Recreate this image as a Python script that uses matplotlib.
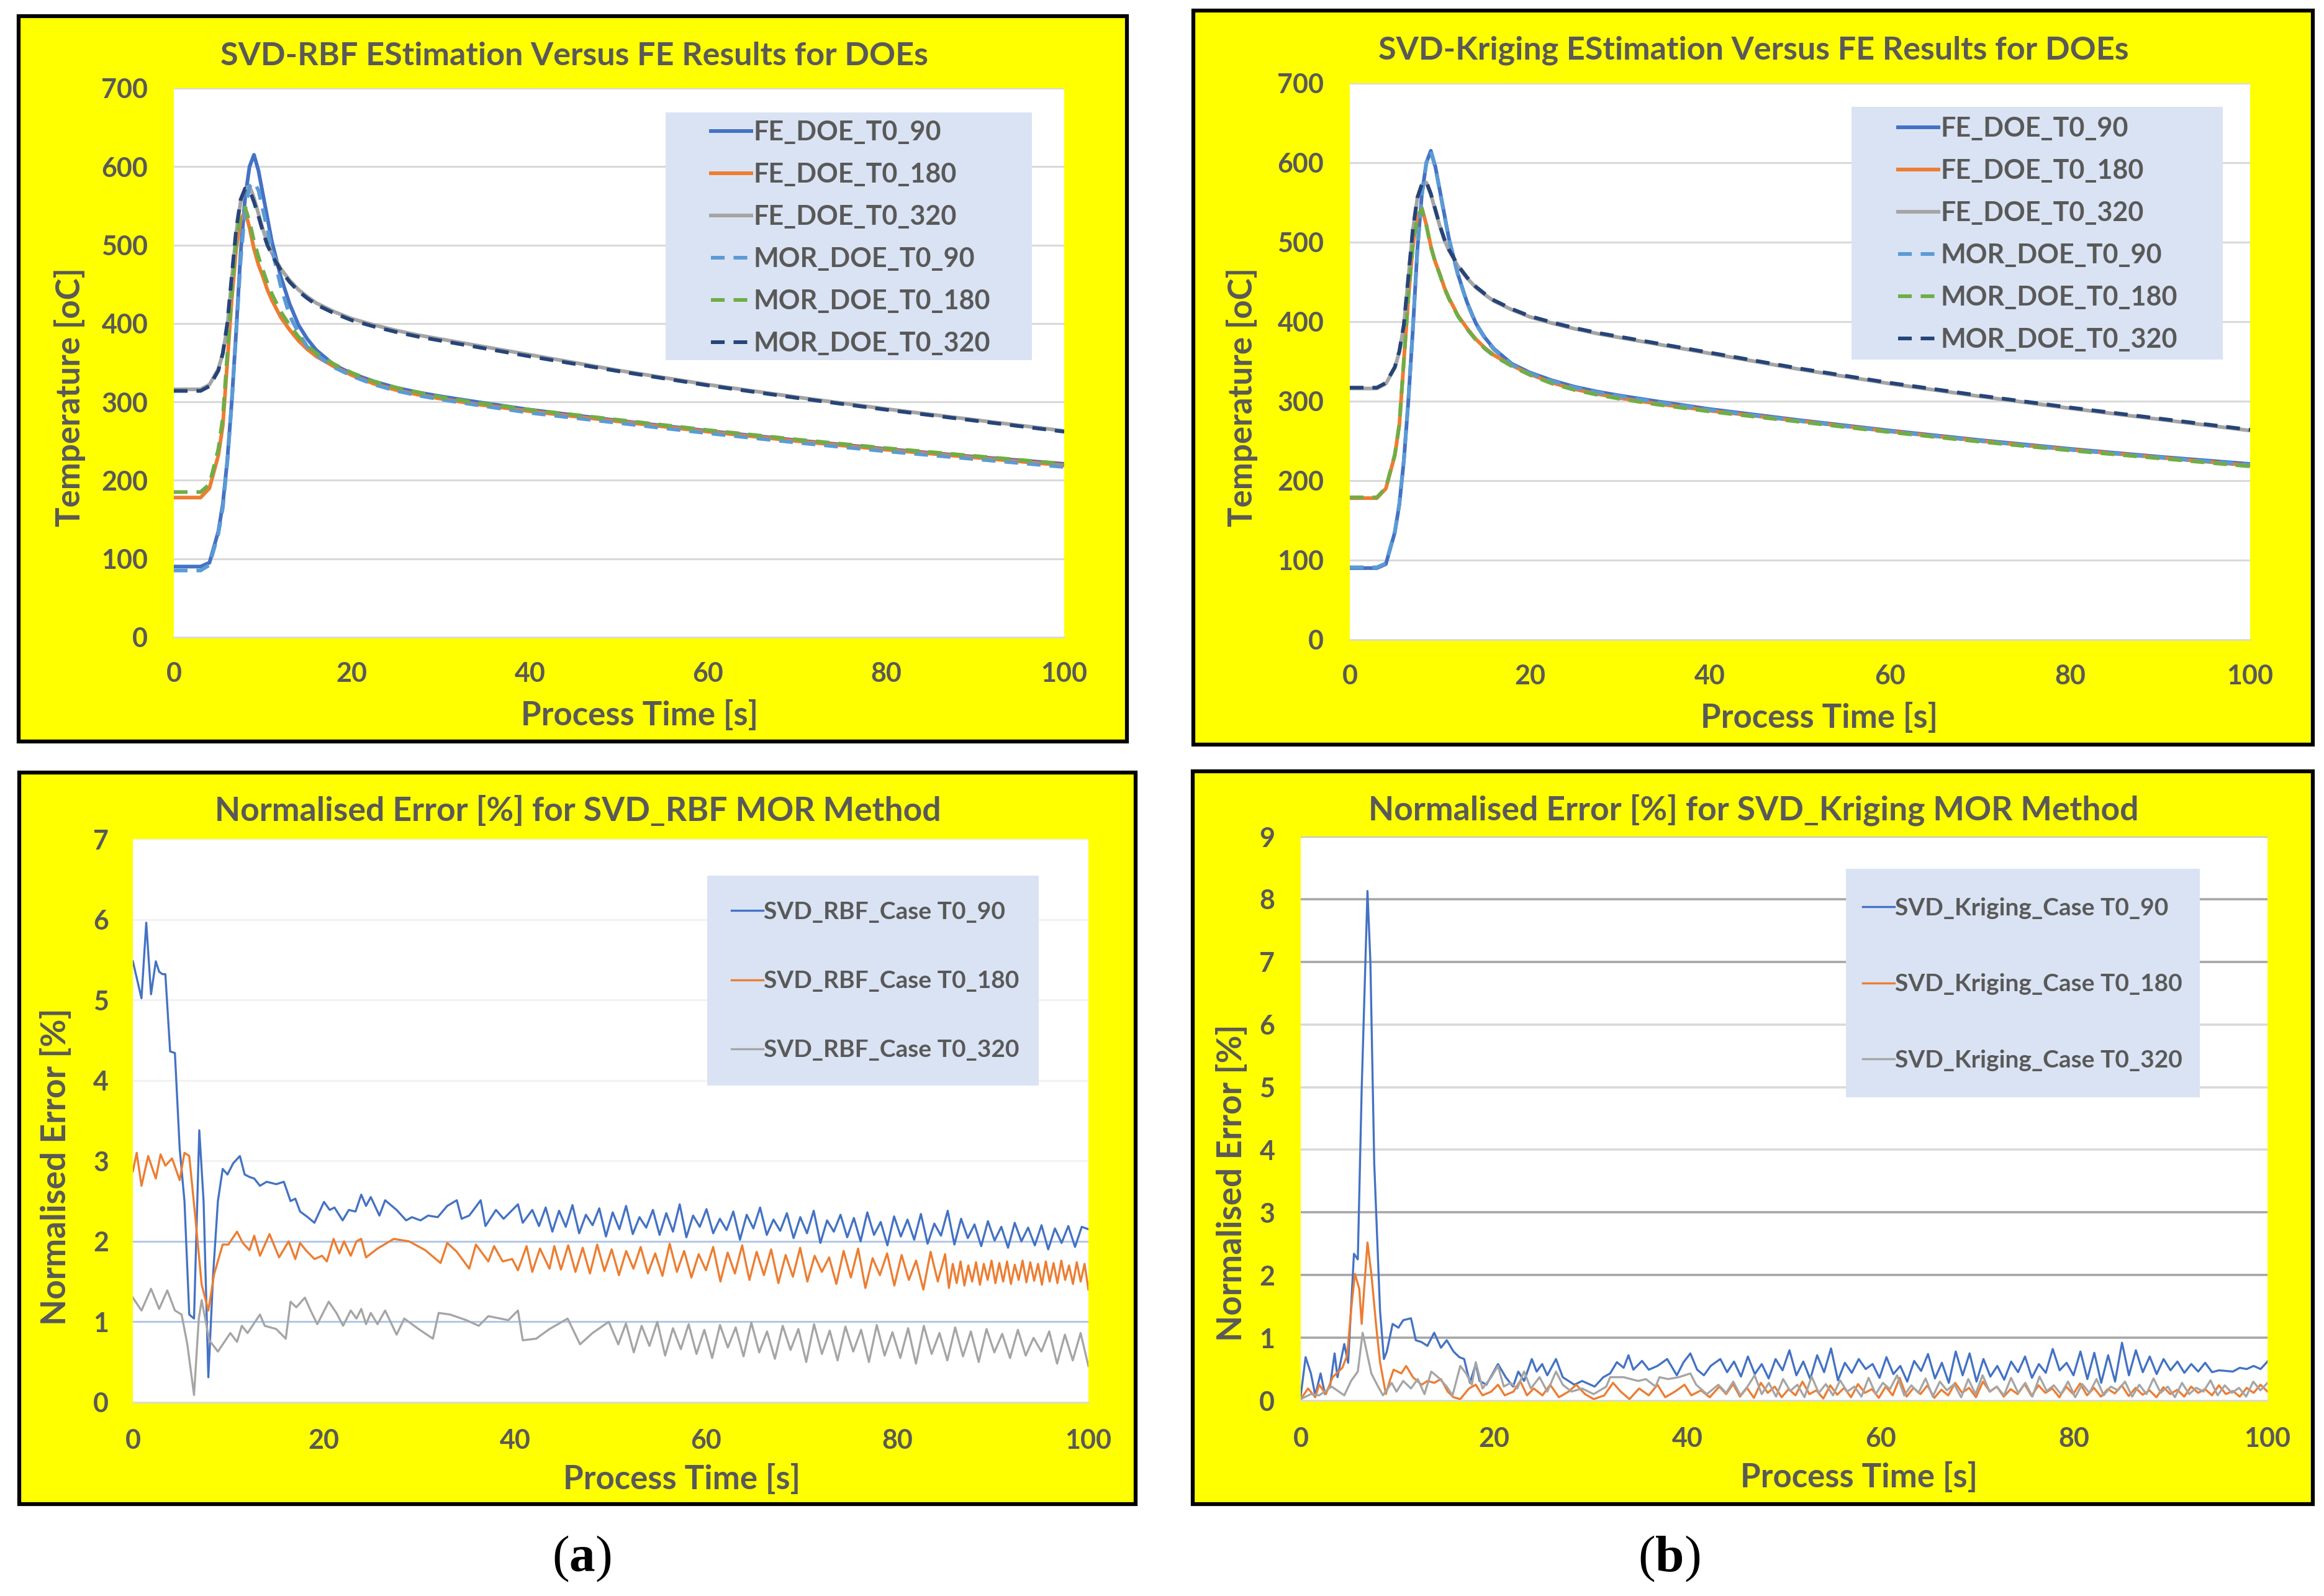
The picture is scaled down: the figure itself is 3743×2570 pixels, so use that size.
import numpy as np
import matplotlib
matplotlib.use("Agg")
import matplotlib.pyplot as plt
from matplotlib.patches import Rectangle

# ---------------- DATA ----------------
time_T = [0, 1, 2, 3, 4, 5, 5.5, 6, 6.5, 7, 7.5, 8, 8.5, 9, 9.5, 10, 10.5, 11, 12, 13, 14, 15, 16, 18,
          20, 22.5, 25, 27.5, 30, 34, 40, 50, 60, 70, 80, 90, 100]

fe_t0_90 = [90, 90, 90, 90, 95, 135, 170, 225, 300, 390, 490, 560, 600, 615, 595, 565, 535, 505, 460, 425,
            398, 380, 366, 347, 336, 326, 318, 312, 307, 300, 290, 276, 263, 251, 240, 230, 221]
fe_t0_180 = [178, 178, 178, 178, 190, 232, 270, 350, 430, 495, 532, 543, 522, 495, 475, 460, 443, 430, 408,
             392, 378, 367, 358, 345, 334, 323, 315, 309, 304, 297, 288, 275, 262, 250, 239, 229, 219]
fe_t0_320 = [316, 316, 316, 316, 322, 342, 362, 395, 455, 515, 555, 572, 575, 560, 540, 520, 503, 490, 470,
             455, 443, 434, 426, 415, 406, 398, 391, 385, 380, 372, 360, 340, 322, 306, 291, 277, 263]

rbf_mor_t0_90 = [85, 85, 85, 85, 92, 132, 165, 222, 298, 388, 480, 545, 575, 580, 570, 545, 520, 495, 448,
                 410, 388, 370, 360, 344, 333, 322, 314, 308, 303, 296, 286, 273, 260, 248, 237, 227, 217]
rbf_mor_t0_180 = [185, 185, 185, 185, 195, 240, 280, 360, 440, 505, 540, 548, 530, 505, 485, 468, 452, 438,
                  415, 398, 383, 371, 362, 348, 337, 326, 318, 312, 306, 299, 290, 277, 264, 252, 241, 231, 221]
rbf_mor_t0_320 = [314, 314, 314, 314, 320, 340, 362, 400, 460, 520, 558, 572, 570, 555, 537, 517, 500, 488,
                  468, 453, 441, 432, 424, 413, 404, 396, 389, 383, 378, 370, 358, 339, 321, 305, 290, 276, 262]

krg_mor_t0_90 = [91, 91, 91, 91, 96, 136, 171, 226, 301, 391, 490, 559, 600, 614, 594, 564, 534, 504, 459,
                 424, 397, 379, 365, 346, 335, 325, 317, 311, 306, 299, 289, 275, 262, 250, 239, 229, 220]
krg_mor_t0_180 = [179, 179, 179, 179, 191, 233, 271, 351, 431, 496, 533, 542, 521, 494, 474, 459, 442, 429,
                  407, 391, 377, 366, 357, 344, 333, 322, 314, 308, 303, 296, 287, 274, 261, 249, 238, 228, 218]
krg_mor_t0_320 = [317, 317, 317, 317, 323, 343, 363, 396, 456, 516, 556, 573, 576, 561, 541, 521, 504, 491,
                  471, 456, 444, 435, 427, 416, 407, 399, 392, 386, 381, 373, 361, 341, 323, 307, 292, 278, 264]

rbf_err_90_knots = [(0, 5.48), (0.9, 5.02), (1.4, 5.96), (1.9, 5.07), (2.4, 5.48), (2.75, 5.35), (3.1, 5.32),
                    (3.4, 5.32), (3.9, 4.36), (4.4, 4.34), (4.9, 3.15), (5.4, 2.5), (5.9, 1.09), (6.4, 1.04),
                    (6.95, 3.38), (7.4, 2.5), (7.9, 0.31), (8.4, 1.59), (8.9, 2.5), (9.4, 2.9), (9.9, 2.83),
                    (10.5, 2.97), (11.2, 3.06), (11.7, 2.83), (12.2, 2.8), (12.7, 2.78), (13.3, 2.69), (14, 2.74),
                    (15, 2.71), (15.8, 2.74), (16.5, 2.5), (17, 2.53), (17.5, 2.37), (18.3, 2.3), (19, 2.23),
                    (20, 2.49), (20.6, 2.39), (21.1, 2.42), (21.95, 2.26), (22.6, 2.39), (23.3, 2.37), (23.9, 2.58),
                    (24.4, 2.44), (24.9, 2.55), (25.8, 2.32), (26.4, 2.51), (27.6, 2.39), (28.6, 2.26), (29.2, 2.3),
                    (30.1, 2.26), (30.9, 2.32), (31.9, 2.3), (32.9, 2.44), (33.9, 2.51), (34.4, 2.28), (35.2, 2.32),
                    (36.4, 2.51), (36.9, 2.19), (38, 2.39), (38.8, 2.28), (40.3, 2.46), (40.8, 2.23), (41.8, 2.39),
                    (42.5, 2.19)]
rbf_err_90_late = [2.42, 2.12, 2.38, 2.18, 2.45, 2.10, 2.33, 2.20, 2.41, 2.06, 2.36, 2.15, 2.44, 2.09, 2.30, 2.17,
                   2.39, 2.08, 2.35, 2.12, 2.46, 2.05, 2.32, 2.18, 2.40, 2.10, 2.28, 2.14, 2.37, 2.02, 2.33, 2.16,
                   2.42, 2.08, 2.27, 2.13, 2.35, 2.04, 2.30, 2.10, 2.38, 1.98, 2.26, 2.12, 2.33, 2.05, 2.29, 2.00,
                   2.36, 2.08, 2.24, 1.95, 2.31, 2.06, 2.27, 2.02, 2.34, 1.97, 2.22, 2.07, 2.38, 1.96, 2.28, 2.04,
                   2.21, 1.94, 2.25, 2.01, 2.18, 1.92, 2.23, 2.00, 2.17, 1.95, 2.20, 1.90, 2.16, 1.98, 2.19, 1.93,
                   2.18, 2.15]

rbf_err_180_knots = [(0, 2.87), (0.4, 3.1), (0.9, 2.69), (1.6, 3.06), (2.4, 2.78), (2.9, 3.08), (3.4, 2.94),
                     (4.1, 3.03), (4.9, 2.76), (5.4, 3.1), (5.9, 3.06), (6.55, 2.28), (7.2, 1.46), (7.9, 1.14),
                     (8.5, 1.59), (9.4, 1.96), (10, 1.96), (10.9, 2.12), (11.5, 1.98), (12.2, 1.89), (12.7, 2.07),
                     (13.3, 1.82), (14.3, 2.09), (15.3, 1.8), (16.3, 2.0), (17, 1.78), (17.5, 1.98), (18.1, 1.89),
                     (19, 1.78), (19.8, 1.82), (20.3, 1.75), (21, 2.03), (21.6, 1.85), (22.1, 2.0), (22.8, 1.82),
                     (23.4, 2.0), (23.9, 2.03), (24.4, 1.8), (25.6, 1.91), (27.3, 2.03), (28.9, 2.0), (30.6, 1.89),
                     (32.2, 1.73), (32.9, 1.98), (33.9, 1.87), (35.2, 1.66), (35.9, 1.96), (37.2, 1.75), (37.8, 1.94),
                     (38.7, 1.75), (39.7, 1.78), (40.3, 1.64), (41.2, 1.94), (41.8, 1.62), (42.6, 1.91), (43.6, 1.66),
                     (44.1, 1.94)]
rbf_err_180_mid = [1.65, 1.95, 1.62, 1.92, 1.60, 1.96, 1.63, 1.90, 1.58, 1.88, 1.66, 1.93, 1.60, 1.85, 1.57, 1.97,
                   1.62, 1.88, 1.55, 1.84, 1.64, 1.93, 1.50, 1.86, 1.60, 1.95, 1.52, 1.87, 1.58, 1.90, 1.48, 1.83,
                   1.56, 1.92, 1.50, 1.82, 1.62, 1.80, 1.47, 1.88, 1.55, 1.91, 1.42, 1.79, 1.58, 1.85, 1.45, 1.83,
                   1.52, 1.76, 1.40, 1.87, 1.50, 1.84]
rbf_err_180_late = [1.42, 1.72, 1.48, 1.75, 1.45, 1.70, 1.50, 1.74, 1.46, 1.72, 1.52, 1.76, 1.48, 1.73, 1.50, 1.75,
                    1.47, 1.71, 1.52, 1.76, 1.49, 1.74, 1.51, 1.72, 1.46, 1.75, 1.50, 1.73, 1.48, 1.76, 1.52, 1.70,
                    1.47, 1.74, 1.50, 1.72, 1.40]

rbf_err_320_knots = [(0, 1.3), (0.9, 1.14), (1.9, 1.41), (2.75, 1.16), (3.6, 1.39), (4.4, 1.14), (5.1, 1.09),
                     (5.7, 0.72), (6.4, 0.09), (6.9, 1.04), (7.2, 1.27), (8.0, 0.77), (8.9, 0.63), (10.2, 0.86),
                     (10.9, 0.75), (11.4, 0.95), (12, 0.86), (13.3, 1.09), (13.8, 0.95), (15, 0.91), (16, 0.79),
                     (16.5, 1.25), (17.1, 1.18), (18, 1.3), (18.6, 1.14), (19.3, 0.97), (20.5, 1.25), (21.3, 1.11),
                     (22, 0.95), (22.8, 1.14), (23.4, 1.04), (23.9, 1.16), (24.4, 0.97), (24.9, 1.11), (25.6, 0.97),
                     (26.4, 1.14), (27.6, 0.84), (28.4, 1.04), (29.9, 0.91), (31.4, 0.79), (32, 1.11), (33.2, 1.09),
                     (34.9, 1.02), (36.2, 0.95), (37.2, 1.07), (39.3, 1.02), (40.3, 1.14), (40.8, 0.77), (42.2, 0.79),
                     (43.6, 0.91), (45.5, 1.04), (46.8, 0.72), (48.1, 0.86), (49.8, 1.0), (50.8, 0.72)]
rbf_err_320_late = [0.98, 0.62, 0.95, 0.70, 1.00, 0.58, 0.92, 0.66, 0.97, 0.60, 0.90, 0.55, 0.96, 0.68, 0.93, 0.57,
                    0.99, 0.62, 0.88, 0.54, 0.95, 0.65, 0.91, 0.50, 0.97, 0.60, 0.89, 0.52, 0.94, 0.63, 0.90, 0.50,
                    0.96, 0.58, 0.87, 0.55, 0.92, 0.48, 0.95, 0.60, 0.86, 0.52, 0.93, 0.57, 0.88, 0.50, 0.91, 0.62,
                    0.85, 0.55, 0.90, 0.58, 0.80, 0.63, 0.88, 0.48, 0.84, 0.52, 0.86, 0.45]

# Normalised error, SVD_Kriging
krg_err_90_knots = [(0, 0.08), (0.5, 0.69), (1.05, 0.43), (1.5, 0.08), (2.05, 0.43), (2.5, 0.1), (3.05, 0.25),
                    (3.5, 0.75), (3.8, 0.37), (4.5, 0.9), (4.9, 0.6), (5.5, 2.34), (5.9, 2.25), (6.3, 4.96),
                    (6.9, 8.13), (7.2, 7.01), (7.6, 3.78), (8.2, 1.43), (8.6, 0.66), (8.9, 0.78), (9.5, 1.22),
                    (10.1, 1.16), (10.6, 1.28), (11.4, 1.31), (11.9, 0.96), (12.5, 0.93), (13.1, 0.87), (13.8, 1.08),
                    (14.5, 0.84), (15.1, 0.96), (15.8, 0.78), (16.4, 0.69), (16.9, 0.66), (17.5, 0.28), (18.1, 0.58),
                    (18.5, 0.31), (19.2, 0.25), (20.4, 0.58), (21.2, 0.37), (21.96, 0.22), (22.5, 0.46), (23.1, 0.31),
                    (23.9, 0.66), (24.4, 0.46), (24.97, 0.58), (25.5, 0.4), (26.4, 0.66), (27.1, 0.37), (28.3, 0.25),
                    (29.1, 0.31), (30.4, 0.22), (31.3, 0.37), (32, 0.43), (32.7, 0.61), (33.4, 0.52), (33.9, 0.72),
                    (34.4, 0.49), (35.3, 0.63), (36, 0.49), (36.9, 0.55), (37.9, 0.66), (38.9, 0.4), (39.6, 0.61),
                    (40.3, 0.75), (41, 0.49), (41.7, 0.4), (42.4, 0.55), (43.4, 0.66)]
krg_err_90_late = [0.45, 0.62, 0.38, 0.70, 0.42, 0.58, 0.35, 0.66, 0.48, 0.80, 0.40, 0.62, 0.34, 0.72, 0.45, 0.83,
                   0.32, 0.60, 0.44, 0.66, 0.50, 0.58, 0.36, 0.69, 0.42, 0.55, 0.30, 0.63, 0.47, 0.74, 0.35, 0.60,
                   0.28, 0.78, 0.40, 0.75, 0.30, 0.66, 0.38, 0.55, 0.33, 0.62, 0.45, 0.70, 0.36, 0.58, 0.44, 0.82,
                   0.48, 0.60, 0.40, 0.78, 0.34, 0.76, 0.28, 0.72, 0.30, 0.92, 0.40, 0.80, 0.45, 0.70, 0.42, 0.66,
                   0.48, 0.62, 0.44, 0.58, 0.46, 0.60, 0.45, 0.48, 0.47, 0.46, 0.52, 0.50, 0.55, 0.50, 0.62]

krg_err_180_knots = [(0, 0.02), (0.75, 0.19), (1.5, 0.05), (1.9, 0.25), (2.6, 0.1), (3.3, 0.37), (3.9, 0.46),
                     (4.3, 0.52), (4.8, 0.72), (5.2, 1.43), (5.6, 2.02), (6.05, 1.78), (6.3, 1.22), (6.9, 2.52),
                     (7.3, 2.02), (7.8, 1.19), (8.2, 0.61), (8.8, 0.1), (9.2, 0.31), (9.6, 0.49), (10.4, 0.43),
                     (10.9, 0.55), (11.6, 0.37), (12.5, 0.25), (13.1, 0.31), (13.8, 0.28), (14.5, 0.34), (15.2, 0.14),
                     (15.8, 0.05), (16.5, 0.02), (17.4, 0.19), (18.1, 0.25), (18.8, 0.08), (19.7, 0.14), (20.4, 0.25),
                     (21.1, 0.08), (22, 0.14), (22.7, 0.31), (23.4, 0.08), (24.1, 0.19), (25, 0.08), (25.8, 0.25),
                     (26.7, 0.05), (27.7, 0.14), (28.5, 0.25), (29.4, 0.1), (30.3, 0.02), (31.4, 0.08), (32.3, 0.28),
                     (33.1, 0.14), (34, 0.02), (35, 0.19), (36, 0.08), (36.9, 0.25), (37.7, 0.05), (38.7, 0.14),
                     (39.7, 0.25), (40.4, 0.08), (41.4, 0.16), (42.3, 0.05), (43.3, 0.22)]
krg_err_180_late = [0.10, 0.26, 0.06, 0.20, 0.04, 0.28, 0.12, 0.22, 0.05, 0.18, 0.08, 0.30, 0.10, 0.16, 0.03, 0.24,
                    0.09, 0.20, 0.05, 0.26, 0.12, 0.18, 0.04, 0.22, 0.08, 0.36, 0.06, 0.20, 0.10, 0.24, 0.04, 0.17,
                    0.08, 0.28, 0.12, 0.20, 0.05, 0.30, 0.14, 0.22, 0.06, 0.18, 0.10, 0.26, 0.07, 0.24, 0.12, 0.19,
                    0.05, 0.22, 0.10, 0.27, 0.08, 0.20, 0.06, 0.18, 0.11, 0.24, 0.07, 0.20, 0.09, 0.16, 0.05, 0.21,
                    0.10, 0.17, 0.06, 0.22, 0.12, 0.18, 0.08, 0.24, 0.10, 0.15, 0.06, 0.20, 0.12, 0.25, 0.14]

krg_err_320_knots = [(0, 0.02), (1.05, 0.1), (1.9, 0.08), (3.2, 0.22), (4.5, 0.08), (5.2, 0.31), (5.9, 0.46),
                     (6.4, 1.08), (6.9, 0.72), (7.3, 0.43), (7.9, 0.25), (8.5, 0.08), (9.4, 0.28), (9.9, 0.14),
                     (10.6, 0.31), (11.4, 0.19), (12.1, 0.34), (12.8, 0.1), (13.5, 0.46), (14.2, 0.37), (15.1, 0.22),
                     (15.7, 0.08), (16.5, 0.55), (17.1, 0.43), (17.7, 0.25), (18.1, 0.61), (18.8, 0.19), (19.7, 0.37),
                     (20.4, 0.55), (21, 0.22), (21.7, 0.28), (22.4, 0.19), (23.1, 0.46), (23.8, 0.19), (24.7, 0.37),
                     (25.5, 0.14), (26.4, 0.46), (27.1, 0.25), (28, 0.14), (29.1, 0.19), (30.3, 0.1), (31.6, 0.22),
                     (32, 0.37), (33.4, 0.37), (34.9, 0.31), (35.7, 0.34), (36.7, 0.22), (37.1, 0.37), (38, 0.34),
                     (39.1, 0.37), (40.3, 0.43), (40.9, 0.25), (42, 0.1), (43.2, 0.25)]
krg_err_320_late = [0.12, 0.30, 0.08, 0.22, 0.40, 0.10, 0.28, 0.06, 0.34, 0.15, 0.25, 0.05, 0.38, 0.12, 0.26, 0.08,
                    0.32, 0.14, 0.22, 0.06, 0.36, 0.10, 0.28, 0.18, 0.40, 0.08, 0.24, 0.12, 0.35, 0.06, 0.30, 0.16,
                    0.26, 0.05, 0.34, 0.10, 0.40, 0.14, 0.22, 0.08, 0.36, 0.12, 0.28, 0.06, 0.38, 0.15, 0.24, 0.10,
                    0.30, 0.05, 0.26, 0.12, 0.34, 0.08, 0.22, 0.16, 0.30, 0.06, 0.25, 0.10, 0.35, 0.12, 0.22, 0.05,
                    0.28, 0.10, 0.20, 0.14, 0.32, 0.08, 0.24, 0.12, 0.20, 0.06, 0.30, 0.16, 0.28]

temp_labels = ["FE_DOE_T0_90", "FE_DOE_T0_180", "FE_DOE_T0_320",
               "MOR_DOE_T0_90", "MOR_DOE_T0_180", "MOR_DOE_T0_320"]
rbf_err_labels = ["SVD_RBF_Case T0_90", "SVD_RBF_Case T0_180", "SVD_RBF_Case T0_320"]
krg_err_labels = ["SVD_Kriging_Case T0_90", "SVD_Kriging_Case T0_180", "SVD_Kriging_Case T0_320"]
x_ticks = [0, 20, 40, 60, 80, 100]


def knots_plus(knots, *segments):
    """Join read-off knots with later segments (start, end, values) spread evenly in time."""
    t = [k[0] for k in knots]
    v = [k[1] for k in knots]
    for start, end, vals in segments:
        t += list(np.linspace(start, end, len(vals)))
        v += list(vals)
    return np.array(t), np.array(v)


# ---------------- STYLE ----------------
W, H = 3743, 2570
plt.rcParams['font.family'] = ['Lato', 'DejaVu Sans']
plt.rcParams['font.weight'] = 'bold'
plt.rcParams['mathtext.fontset'] = 'custom'
plt.rcParams['mathtext.rm'] = 'Liberation Serif'
plt.rcParams['mathtext.bf'] = 'Liberation Serif:bold'
TXT = '#595959'
YELLOW = '#FFFF00'
LEGBG = '#DAE3F3'
C_FE = ['#4472C4', '#ED7D31', '#A5A5A5']
C_MOR = ['#5B9BD5', '#70AD47', '#264478']

fig = plt.figure(figsize=(W / 100, H / 100), dpi=100, facecolor='white')


def frect(x0, y0, x1, y1):
    return [x0 / W, 1 - y1 / H, (x1 - x0) / W, (y1 - y0) / H]


def panel(x0, y0, x1, y1):
    fig.add_artist(Rectangle((x0 / W, 1 - y1 / H), (x1 - x0) / W, (y1 - y0) / H,
                             transform=fig.transFigure, facecolor=YELLOW, edgecolor='black',
                             linewidth=4.5, zorder=-10))


def style_axes(ax, ylim, yticks, tick_fs, ypad, xpad):
    ax.set_xlim(0, 100)
    ax.set_ylim(*ylim)
    ax.set_xticks(x_ticks)
    ax.set_yticks(yticks)
    ax.tick_params(length=0, labelsize=tick_fs, labelcolor=TXT)
    ax.tick_params(axis='y', pad=ypad)
    ax.tick_params(axis='x', pad=xpad)
    for lab in ax.get_xticklabels() + ax.get_yticklabels():
        lab.set_fontweight('bold')
    for s in ['top', 'right', 'left']:
        ax.spines[s].set_visible(False)
    ax.spines['bottom'].set_color('#D9D9D9')
    ax.spines['bottom'].set_linewidth(2)
    ax.set_facecolor('white')


def legend_box(ax, x0, y0, x1, y1):
    ax.add_patch(Rectangle((x0 / W, 1 - y1 / H), (x1 - x0) / W, (y1 - y0) / H,
                           transform=fig.transFigure, facecolor=LEGBG, edgecolor='none', zorder=3))


def texts(ax, title, tpos, xlabel, xpos, ylabel, ypos, tfs, xfs, yfs):
    ax.set_title(title, x=tpos[0], y=tpos[1], pad=0, va='center', fontsize=tfs,
                 fontweight='bold', color=TXT)
    ax.set_xlabel(xlabel, fontsize=xfs, fontweight='bold', color=TXT)
    ax.xaxis.set_label_coords(*xpos)
    ax.xaxis.label.set_va('center')
    ax.set_ylabel(ylabel, fontsize=yfs, fontweight='bold', color=TXT)
    ax.yaxis.set_label_coords(*ypos)
    ax.yaxis.label.set_va('center')


dash = (3.7, 2.4)

# ---------- temperature panels ----------
temp_specs = [
    dict(frame=(30, 26, 1815, 1194), axes=(280, 142, 1714, 1026),
         title="SVD-RBF EStimation Versus FE Results for DOEs", tpos=(0.4498, 1.0588),
         xpos=(0.523, -0.1425), ypos=(-0.1165, 0.4367),
         mor=[rbf_mor_t0_90, rbf_mor_t0_180, rbf_mor_t0_320],
         leg=(1072, 181, 1662, 580), leg_anchor=(1145, 193)),
    dict(frame=(1922, 17, 3725, 1199), axes=(2174, 134, 3624, 1030),
         title="SVD-Kriging EStimation Versus FE Results for DOEs", tpos=(0.4483, 1.0592),
         xpos=(0.5214, -0.1406), ypos=(-0.12, 0.4353),
         mor=[krg_mor_t0_90, krg_mor_t0_180, krg_mor_t0_320],
         leg=(2982, 172, 3580, 579), leg_anchor=(3057, 187)),
]
for sp in temp_specs:
    panel(*sp['frame'])
    ax = fig.add_axes(frect(*sp['axes']))
    style_axes(ax, (0, 700), range(0, 701, 100), 31, 30, 28)
    for yv in range(100, 701, 100):
        ax.axhline(yv, color='#D9D9D9', lw=2.2, zorder=0.5)
    handles = []
    for vals, c in zip([fe_t0_90, fe_t0_180, fe_t0_320], C_FE):
        handles += ax.plot(time_T, vals, color=c, lw=4.3, zorder=2)
    for vals, c in zip(sp['mor'], C_MOR):
        handles += ax.plot(time_T, vals, color=c, lw=4.3, dashes=dash, zorder=2.2)
    texts(ax, sp['title'], sp['tpos'], "Process Time [s]", sp['xpos'], "Temperature [oC]", sp['ypos'],
          37.5, 38, 38)
    legend_box(ax, *sp['leg'])
    ax.legend(handles, temp_labels, loc='upper left', frameon=False, fontsize=31,
              bbox_to_anchor=(sp['leg_anchor'][0] / W, 1 - sp['leg_anchor'][1] / H),
              bbox_transform=fig.transFigure, borderpad=0, borderaxespad=0,
              handlelength=1.5, handletextpad=0.1, labelspacing=0.65, labelcolor=TXT).set_zorder(5)

# ---------- error panels ----------
rbf_series = [knots_plus(rbf_err_90_knots, (43.2, 100, rbf_err_90_late)),
              knots_plus(rbf_err_180_knots, (44.8, 85.0, rbf_err_180_mid), (85.4, 100, rbf_err_180_late)),
              knots_plus(rbf_err_320_knots, (51.6, 100, rbf_err_320_late))]
krg_series = [knots_plus(krg_err_90_knots, (44.1, 100, krg_err_90_late)),
              knots_plus(krg_err_180_knots, (44.0, 100, krg_err_180_late)),
              knots_plus(krg_err_320_knots, (44.0, 100, krg_err_320_late))]

# BL: RBF
panel(31, 1244, 1829, 2422)
ax = fig.add_axes(frect(214, 1351, 1753, 2258))
style_axes(ax, (0, 7), range(0, 8), 31, 28, 30)
for yv, c in zip(range(1, 8), ['#B4C7E7', '#B4C7E7', '#F2F2F2', '#F2F2F2', '#F2F2F2', '#F2F2F2', '#F2F2F2']):
    ax.axhline(yv, color=c, lw=2.2, zorder=0.5)
handles = []
for (t, v), c in zip(rbf_series, C_FE):
    handles += ax.plot(t, v, color=c, lw=2.4, zorder=2)
texts(ax, "Normalised Error [%] for SVD_RBF MOR Method", (0.4659, 1.0496), "Process Time [s]",
      (0.5744, -0.1367), "Normalised Error [%]", (-0.0806, 0.4179), 38.5, 38, 39.5)
legend_box(ax, 1139, 1410, 1673, 1748)
ax.legend(handles, rbf_err_labels, loc='upper left', frameon=False, fontsize=28,
          bbox_to_anchor=(1178 / W, 1 - 1451 / H), bbox_transform=fig.transFigure,
          borderpad=0, borderaxespad=0, handlelength=1.3, handletextpad=0.05,
          labelspacing=1.96, labelcolor=TXT).set_zorder(5)

# BR: Kriging
panel(1921, 1242, 3725, 2422)
ax = fig.add_axes(frect(2095, 1347, 3652, 2255))
style_axes(ax, (0, 9), range(0, 10), 31, 30, 30)
grid_cols = ['#A6A6A6', '#A6A6A6', '#A6A6A6', '#D9D9D9', '#D9D9D9', '#D9D9D9', '#A6A6A6', '#A6A6A6', '#BFBFBF']
for yv, c in zip(range(1, 10), grid_cols):
    ax.axhline(yv, color=c, lw=2.6, zorder=0.5)
handles = []
for (t, v), c in zip(krg_series, C_FE):
    handles += ax.plot(t, v, color=c, lw=2.4, zorder=2)
texts(ax, "Normalised Error [%] for SVD_Kriging MOR Method", (0.4682, 1.0474), "Process Time [s]",
      (0.5774, -0.1366), "Normalised Error [%]", (-0.0719, 0.3855), 38.5, 38, 39.5)
legend_box(ax, 2973, 1399, 3543, 1767)
ax.legend(handles, krg_err_labels, loc='upper left', frameon=False, fontsize=28,
          bbox_to_anchor=(3000 / W, 1 - 1445 / H), bbox_transform=fig.transFigure,
          borderpad=0, borderaxespad=0, handlelength=1.3, handletextpad=0.05,
          labelspacing=2.25, labelcolor=TXT).set_zorder(5)

# sub-figure labels
for s, x in [("a", 937), ("b", 2688)]:
    fig.text(x / W, 1 - 2510 / H, "($\\mathbf{" + s + "}$)", ha='center', va='center', fontsize=60,
             family='Liberation Serif', fontweight='normal', color='black')

fig.savefig("out.png", dpi=100, facecolor='white')
